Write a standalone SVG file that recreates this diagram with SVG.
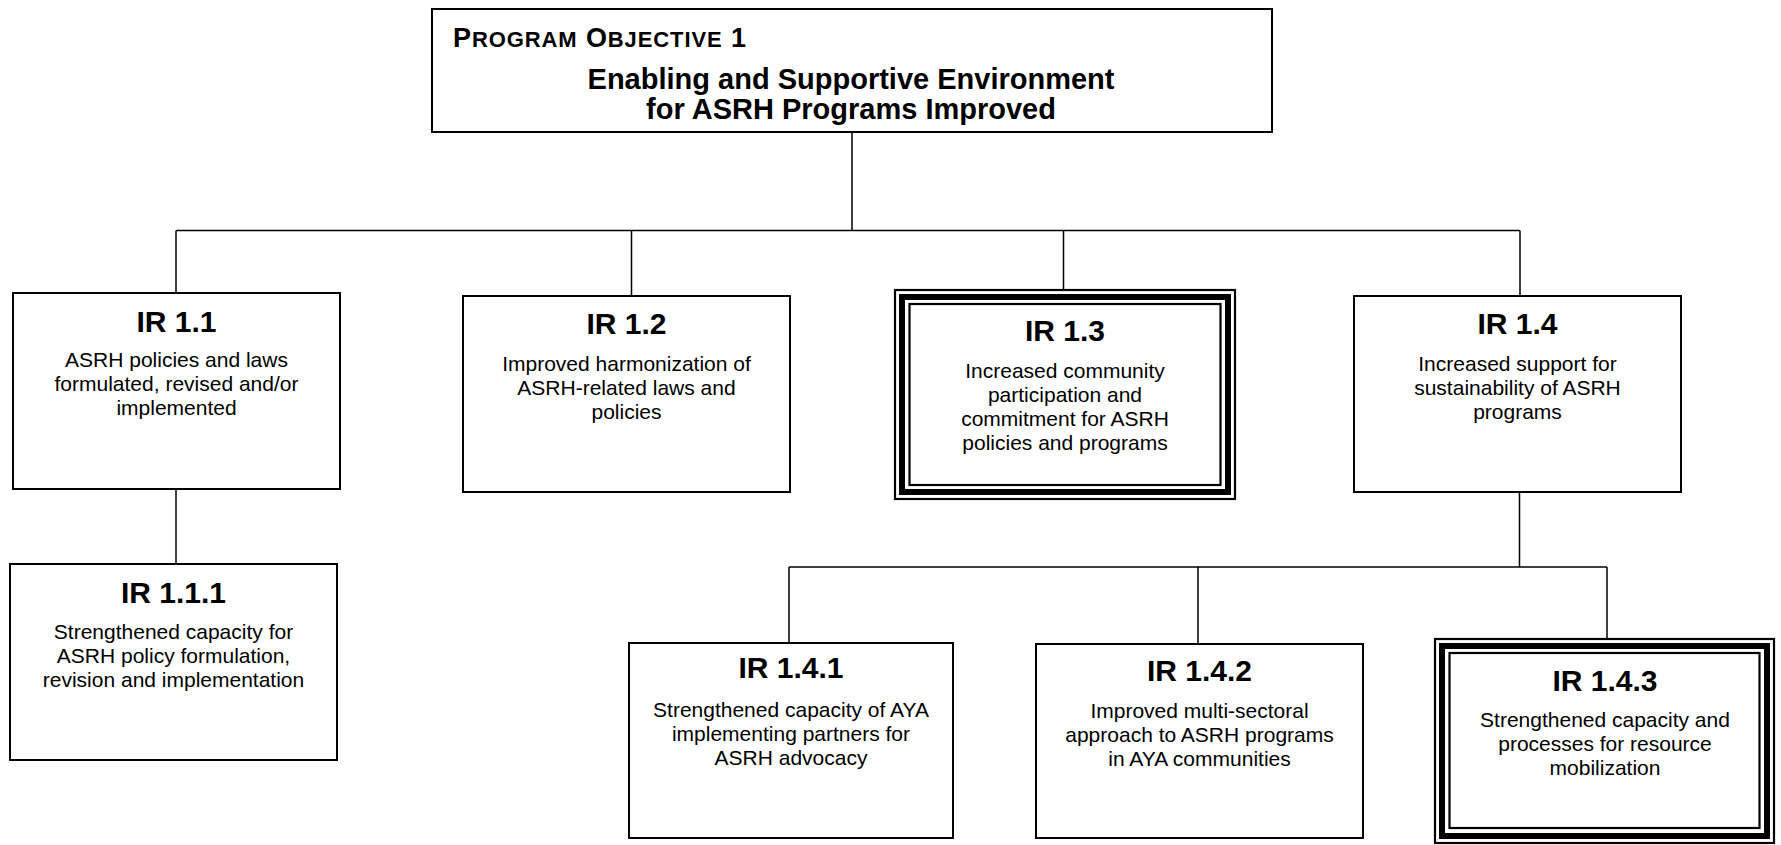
<svg xmlns="http://www.w3.org/2000/svg" width="1781" height="845" viewBox="0 0 1781 845">
  <style>
    .box { fill: #fff; stroke: #000; stroke-width: 2; }
    .outer { fill: #fff; stroke: #000; stroke-width: 2.2; }
    .thick { fill: none; stroke: #000; stroke-width: 6; }
    .inner { fill: none; stroke: #000; stroke-width: 2.2; }
    .conn { fill: none; stroke: #000; stroke-width: 1.5; }
    text { font-family: "Liberation Sans", Arial, sans-serif; fill: #000; text-anchor: middle; }
    .title { font-size: 30px; font-weight: bold; }
    .body { font-size: 21px; }
    .head { font-size: 29px; font-weight: bold; }
    .caps { font-size: 27px; font-weight: bold; text-anchor: start; }
  </style>

  <!-- connectors -->
  <g id="connectors">
    <path class="conn" d="M852 132 V230.5 M176 230.5 H1520 M176 230.5 V293 M631.5 230.5 V296 M1063.5 230.5 V289 M1520 230.5 V296"/>
    <path class="conn" d="M176 489 V564"/>
    <path class="conn" d="M1519.5 492 V567 M789 567 H1607 M789 567 V643 M1198 567 V644 M1607 567 V638"/>
  </g>

  <!-- program objective -->
  <g id="objective">
    <rect class="box" x="432" y="9" width="840" height="123"/>
    <text class="caps" x="453" y="47" textLength="293" lengthAdjust="spacing">P<tspan font-size="22">ROGRAM</tspan> O<tspan font-size="22">BJECTIVE</tspan> 1</text>
    <text class="head" x="851" y="88.5">Enabling and Supportive Environment</text>
    <text class="head" x="851" y="118.5">for ASRH Programs Improved</text>
  </g>

  <g id="ir-1-1">
    <rect class="box" x="13" y="293" width="327" height="196"/>
    <text class="title" x="176.5" y="332">IR 1.1</text>
    <text class="body" x="176.5" y="367">ASRH policies and laws</text>
    <text class="body" x="176.5" y="391">formulated, revised and/or</text>
    <text class="body" x="176.5" y="415">implemented</text>
  </g>

  <g id="ir-1-2">
    <rect class="box" x="463" y="296" width="327" height="196"/>
    <text class="title" x="626.5" y="334">IR 1.2</text>
    <text class="body" x="626.5" y="371">Improved harmonization of</text>
    <text class="body" x="626.5" y="395">ASRH-related laws and</text>
    <text class="body" x="626.5" y="419">policies</text>
  </g>

  <g id="ir-1-3">
    <rect class="outer" x="895" y="290" width="340" height="209"/>
    <rect class="thick" x="902" y="297" width="326" height="195"/>
    <rect class="inner" x="909.5" y="304" width="311" height="181"/>
    <text class="title" x="1065" y="341">IR 1.3</text>
    <text class="body" x="1065" y="378">Increased community</text>
    <text class="body" x="1065" y="402">participation and</text>
    <text class="body" x="1065" y="426">commitment for ASRH</text>
    <text class="body" x="1065" y="450">policies and programs</text>
  </g>

  <g id="ir-1-4">
    <rect class="box" x="1354" y="296" width="327" height="196"/>
    <text class="title" x="1517.5" y="334">IR 1.4</text>
    <text class="body" x="1517.5" y="371">Increased support for</text>
    <text class="body" x="1517.5" y="395">sustainability of ASRH</text>
    <text class="body" x="1517.5" y="419">programs</text>
  </g>

  <g id="ir-1-1-1">
    <rect class="box" x="10" y="564" width="327" height="196"/>
    <text class="title" x="173.5" y="603">IR 1.1.1</text>
    <text class="body" x="173.5" y="639">Strengthened capacity for</text>
    <text class="body" x="173.5" y="663">ASRH policy formulation,</text>
    <text class="body" x="173.5" y="687">revision and implementation</text>
  </g>

  <g id="ir-1-4-1">
    <rect class="box" x="629" y="643" width="324" height="195"/>
    <text class="title" x="791" y="678">IR 1.4.1</text>
    <text class="body" x="791" y="717">Strengthened capacity of AYA</text>
    <text class="body" x="791" y="741">implementing partners for</text>
    <text class="body" x="791" y="765">ASRH advocacy</text>
  </g>

  <g id="ir-1-4-2">
    <rect class="box" x="1036" y="644" width="327" height="194"/>
    <text class="title" x="1199.5" y="681">IR 1.4.2</text>
    <text class="body" x="1199.5" y="718">Improved multi-sectoral</text>
    <text class="body" x="1199.5" y="742">approach to ASRH programs</text>
    <text class="body" x="1199.5" y="766">in AYA communities</text>
  </g>

  <g id="ir-1-4-3">
    <rect class="outer" x="1435" y="639" width="339" height="204"/>
    <rect class="thick" x="1442" y="646" width="325" height="190"/>
    <rect class="inner" x="1449.5" y="653" width="310" height="175"/>
    <text class="title" x="1605" y="691">IR 1.4.3</text>
    <text class="body" x="1605" y="727">Strengthened capacity and</text>
    <text class="body" x="1605" y="751">processes for resource</text>
    <text class="body" x="1605" y="775">mobilization</text>
  </g>
</svg>
